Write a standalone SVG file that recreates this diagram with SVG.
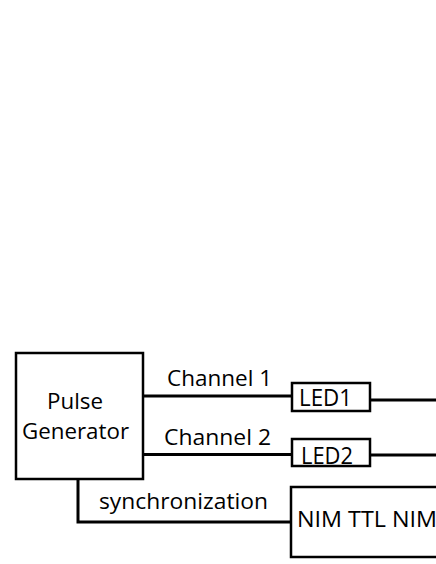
<svg xmlns="http://www.w3.org/2000/svg" width="436" height="564" viewBox="0 0 436 564">
<style>
.box{fill:#fff;stroke:#000;stroke-width:2.5}
.ln{fill:none;stroke:#000;stroke-width:3}
text{font-family:"Open Sans","Liberation Sans",sans-serif;fill:#000}
.t{font-size:22.5px}
.s{font-size:21px}
.l{font-size:24px}
</style>
<rect width="436" height="564" fill="#fff"/>
<g id="connectors">
<line class="ln" x1="143" y1="396" x2="292" y2="396"/>
<line class="ln" x1="370" y1="400" x2="436" y2="400"/>
<line class="ln" x1="143" y1="454.5" x2="292" y2="454.5"/>
<line class="ln" x1="370" y1="455" x2="436" y2="455"/>
<polyline class="ln" points="78,479 78,522 291,522"/>
<text class="s" x="167" y="386" textLength="105" lengthAdjust="spacingAndGlyphs">Channel 1</text>
<text class="s" x="164" y="445" textLength="107" lengthAdjust="spacingAndGlyphs">Channel 2</text>
<text class="s" x="99" y="509" textLength="169" lengthAdjust="spacingAndGlyphs">synchronization</text>
</g>
<g id="pulse-generator">
<rect class="box" x="16" y="353" width="127" height="126"/>
<text class="t" x="47" y="409" textLength="56" lengthAdjust="spacingAndGlyphs">Pulse</text>
<text class="t" x="22" y="438.5" textLength="107" lengthAdjust="spacingAndGlyphs">Generator</text>
</g>
<g id="led1">
<rect class="box" x="292" y="383" width="78" height="28"/>
<text class="l" x="299" y="406" textLength="53" lengthAdjust="spacingAndGlyphs">LED1</text>
</g>
<g id="led2">
<rect class="box" x="292" y="439" width="78" height="27"/>
<text class="l" x="301" y="463.5" textLength="52" lengthAdjust="spacingAndGlyphs">LED2</text>
</g>
<g id="nim-ttl-nim">
<rect class="box" x="291" y="487" width="160" height="70"/>
<text class="s" x="297" y="527" textLength="140" lengthAdjust="spacingAndGlyphs">NIM TTL NIM</text>
</g>
</svg>
